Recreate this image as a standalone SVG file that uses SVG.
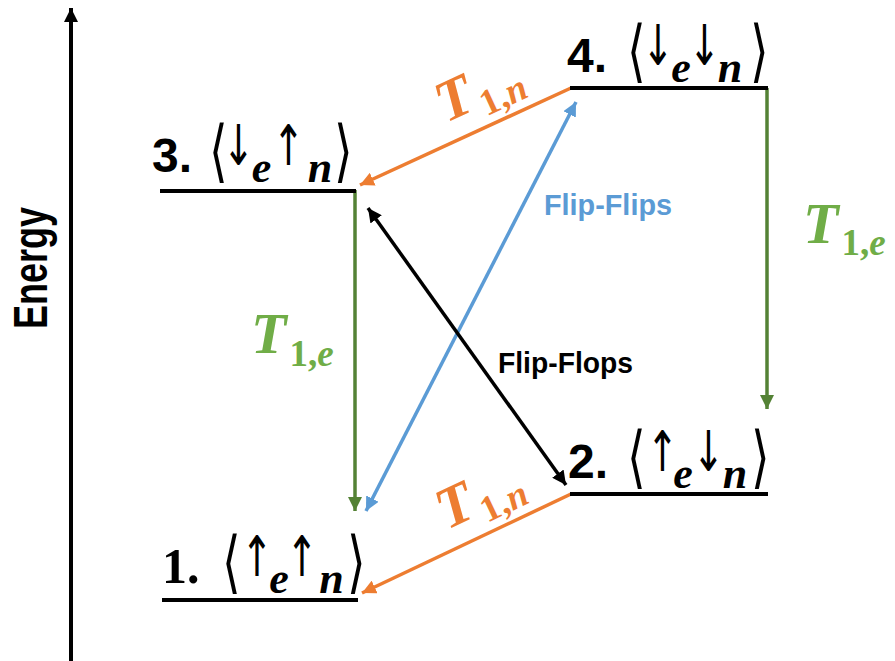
<svg xmlns="http://www.w3.org/2000/svg" width="895" height="661" viewBox="0 0 895 661">
<style>
.lvl{stroke:#000;stroke-width:4;fill:none}
.st{fill:#000}
.num{font-family:'Liberation Sans',Arial,sans-serif;font-weight:bold;font-size:48px}
.numS{font-family:'Liberation Serif','DejaVu Serif',serif;font-weight:bold;font-size:50px}
.br{font-family:'DejaVu Sans ExtraLight','DejaVu Sans',sans-serif;font-weight:200;font-size:68px}
.ar{font-family:'DejaVu Sans',sans-serif;font-size:56px}
.sub{font-family:'Liberation Serif','DejaVu Serif',serif;font-weight:bold;font-style:italic;font-size:44px}
.T{font-family:'Liberation Serif','DejaVu Serif',serif;font-weight:bold;font-style:italic;font-size:58px}
.Ts{font-family:'Liberation Serif','DejaVu Serif',serif;font-weight:bold;font-size:37px}
.Tsi{font-style:italic}
.lab{font-family:'Liberation Sans',Arial,sans-serif;font-weight:bold;font-size:30px}
.c{fill:none;stroke-width:3.5}
</style>
<defs>
<marker id="hk" markerUnits="userSpaceOnUse" markerWidth="16" markerHeight="14" refX="14" refY="7" orient="auto-start-reverse"><path d="M0,0 L14,7 L0,14 z" fill="#000"/></marker>
<marker id="hg" markerUnits="userSpaceOnUse" markerWidth="16" markerHeight="14" refX="14" refY="7" orient="auto-start-reverse"><path d="M0,0 L14,7 L0,14 z" fill="#548235"/></marker>
<marker id="ho" markerUnits="userSpaceOnUse" markerWidth="16" markerHeight="14" refX="14" refY="7" orient="auto-start-reverse"><path d="M0,0 L14,7 L0,14 z" fill="#ED7D31"/></marker>
<marker id="hb" markerUnits="userSpaceOnUse" markerWidth="16" markerHeight="14" refX="14" refY="7" orient="auto-start-reverse"><path d="M0,0 L14,7 L0,14 z" fill="#5B9BD5"/></marker>
</defs>
<rect width="895" height="661" fill="#fff"/>

<g id="axis">
<line x1="71" y1="661" x2="71" y2="8" stroke="#000" stroke-width="4" marker-end="url(#hk)"/>
<text transform="translate(47,268) rotate(-90)" text-anchor="middle" font-family="'Liberation Sans',Arial,sans-serif" font-weight="bold" font-size="48" textLength="122" lengthAdjust="spacingAndGlyphs">Energy</text>
</g>

<g id="connectors">
<line class="c" x1="355" y1="190" x2="355" y2="511" stroke="#548235" marker-end="url(#hg)"/>
<line class="c" x1="767" y1="88" x2="767" y2="409" stroke="#548235" marker-end="url(#hg)"/>
<line class="c" x1="571" y1="88" x2="360" y2="185" stroke="#ED7D31" marker-end="url(#ho)"/>
<line class="c" x1="571" y1="494" x2="362" y2="593" stroke="#ED7D31" marker-end="url(#ho)"/>
<line class="c" x1="366" y1="511" x2="576" y2="102" stroke="#5B9BD5" marker-start="url(#hb)" marker-end="url(#hb)"/>
<line class="c" x1="368" y1="208" x2="566" y2="485" stroke="#000" marker-start="url(#hk)" marker-end="url(#hk)"/>
</g>

<g id="level3">
<line class="lvl" x1="160" y1="191" x2="356" y2="191"/>
<text class="st"><tspan class="num" x="152" y="172">3.</tspan><tspan class="br" x="209" y="174" textLength="19" lengthAdjust="spacingAndGlyphs">⟨</tspan><tspan class="ar" x="222.5" y="165" textLength="32" lengthAdjust="spacingAndGlyphs">↓</tspan><tspan class="sub" x="261.5" y="182" text-anchor="middle">e</tspan><tspan class="ar" x="272.5" y="165" textLength="32" lengthAdjust="spacingAndGlyphs">↑</tspan><tspan class="sub" x="320" y="182" text-anchor="middle">n</tspan><tspan class="br" x="334" y="174" textLength="19" lengthAdjust="spacingAndGlyphs">⟩</tspan></text>
</g>

<g id="level4">
<line class="lvl" x1="570" y1="88" x2="768" y2="88"/>
<text class="st"><tspan class="num" x="567" y="72">4.</tspan><tspan class="br" x="627" y="74" textLength="19" lengthAdjust="spacingAndGlyphs">⟨</tspan><tspan class="ar" x="642" y="65" textLength="32" lengthAdjust="spacingAndGlyphs">↓</tspan><tspan class="sub" x="681" y="82" text-anchor="middle">e</tspan><tspan class="ar" x="688.5" y="65" textLength="32" lengthAdjust="spacingAndGlyphs">↓</tspan><tspan class="sub" x="730" y="82" text-anchor="middle">n</tspan><tspan class="br" x="750" y="74" textLength="19" lengthAdjust="spacingAndGlyphs">⟩</tspan></text>
</g>

<g id="level2">
<line class="lvl" x1="570" y1="494" x2="768" y2="494"/>
<text class="st"><tspan class="num" x="568" y="478">2.</tspan><tspan class="br" x="627" y="480" textLength="19" lengthAdjust="spacingAndGlyphs">⟨</tspan><tspan class="ar" x="646.5" y="471" textLength="32" lengthAdjust="spacingAndGlyphs">↑</tspan><tspan class="sub" x="683" y="488" text-anchor="middle">e</tspan><tspan class="ar" x="692.5" y="471" textLength="32" lengthAdjust="spacingAndGlyphs">↓</tspan><tspan class="sub" x="735" y="488" text-anchor="middle">n</tspan><tspan class="br" x="750.5" y="480" textLength="19" lengthAdjust="spacingAndGlyphs">⟩</tspan></text>
</g>

<g id="level1">
<line class="lvl" x1="162" y1="600" x2="358" y2="600"/>
<text class="st"><tspan class="numS" x="162" y="583">1.</tspan><tspan class="br" x="222" y="585" textLength="19" lengthAdjust="spacingAndGlyphs">⟨</tspan><tspan class="ar" x="241" y="576" textLength="32" lengthAdjust="spacingAndGlyphs">↑</tspan><tspan class="sub" x="279" y="593" text-anchor="middle">e</tspan><tspan class="ar" x="286" y="576" textLength="32" lengthAdjust="spacingAndGlyphs">↑</tspan><tspan class="sub" x="331.5" y="593" text-anchor="middle">n</tspan><tspan class="br" x="346.5" y="585" textLength="19" lengthAdjust="spacingAndGlyphs">⟩</tspan></text>
</g>

<g id="label-T1n-upper" fill="#ED7D31">
<text transform="translate(446,123) rotate(-24.8)"><tspan class="T">T</tspan><tspan class="Ts" dx="4" dy="11">1,<tspan class="Tsi">n</tspan></tspan></text>
</g>
<g id="label-T1n-lower" fill="#ED7D31">
<text transform="translate(447,530) rotate(-25.5)"><tspan class="T">T</tspan><tspan class="Ts" dx="4" dy="11">1,<tspan class="Tsi">n</tspan></tspan></text>
</g>
<g id="label-T1e-left" fill="#70AD47">
<text x="251" y="353"><tspan class="T">T</tspan><tspan class="Ts" dx="3" dy="13">1,<tspan class="Tsi">e</tspan></tspan></text>
</g>
<g id="label-T1e-right" fill="#70AD47">
<text x="803" y="243"><tspan class="T">T</tspan><tspan class="Ts" dx="3" dy="12">1,<tspan class="Tsi">e</tspan></tspan></text>
</g>
<g id="label-flipflips">
<text class="lab" x="544" y="215" fill="#5B9BD5" textLength="128" lengthAdjust="spacingAndGlyphs">Flip-Flips</text>
</g>
<g id="label-flipflops">
<text class="lab" x="498" y="373" fill="#000" textLength="135" lengthAdjust="spacingAndGlyphs">Flip-Flops</text>
</g>
</svg>
